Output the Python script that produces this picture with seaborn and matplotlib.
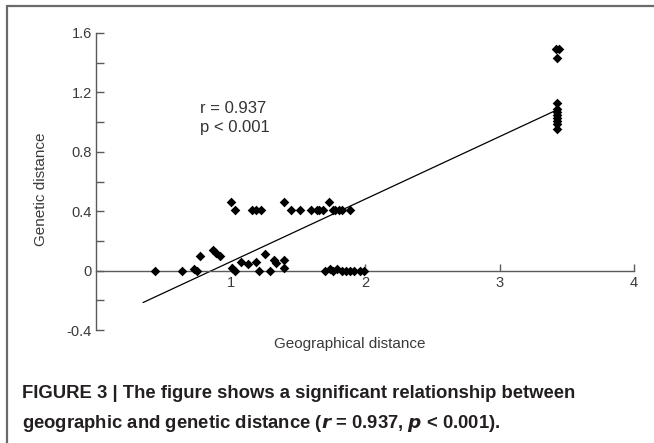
import numpy as np
import pandas as pd
import matplotlib
matplotlib.use('Agg')
import matplotlib.pyplot as plt
from matplotlib.ticker import MultipleLocator
import seaborn as sns

# data
geo_upper = [1.00, 1.03, 1.16, 1.19, 1.23, 1.40, 1.45, 1.52, 1.60, 1.64, 1.66,
             1.69, 1.73, 1.76, 1.78, 1.81, 1.83, 1.89]
gen_upper = [0.46, 0.41, 0.41, 0.41, 0.41, 0.46, 0.41, 0.41, 0.41, 0.41, 0.41,
             0.41, 0.46, 0.41, 0.41, 0.41, 0.41, 0.41]

geo_lower = [0.44, 0.64, 0.73, 0.75, 0.77, 0.87, 0.89, 0.92, 1.01, 1.03, 1.08,
             1.13, 1.19, 1.21, 1.26, 1.29, 1.32, 1.34, 1.40, 1.40]
gen_lower = [0.00, 0.00, 0.01, 0.00, 0.10, 0.14, 0.12, 0.095, 0.015, 0.00, 0.06,
             0.045, 0.06, 0.00, 0.115, 0.00, 0.07, 0.05, 0.07, 0.015]

geo_base = [1.70, 1.74, 1.76, 1.79, 1.83, 1.86, 1.89, 1.92, 1.96, 1.99]
gen_base = [0.00, 0.01, 0.00, 0.01, 0.00, 0.00, 0.00, 0.00, 0.00, 0.00]

geo_far = [3.42, 3.44, 3.43, 3.43, 3.43, 3.43, 3.43, 3.43, 3.43, 3.43, 3.43]
gen_far = [1.495, 1.495, 1.43, 1.13, 1.09, 1.07, 1.05, 1.03, 1.01, 0.99, 0.955]

# fitted line end points
line_x = [0.35, 3.41]
line_y = [-0.215, 1.075]

df = pd.DataFrame({
    'geo': geo_upper + geo_lower + geo_base + geo_far,
    'gen': gen_upper + gen_lower + gen_base + gen_far,
})

sns.set_style('white')
plt.rcParams['font.family'] = ['Liberation Sans', 'DejaVu Sans']
plt.rcParams['mathtext.fontset'] = 'custom'
plt.rcParams['mathtext.it'] = 'Liberation Sans Narrow:italic:bold'
plt.rcParams['mathtext.rm'] = 'Liberation Sans Narrow:bold'

fig = plt.figure(figsize=(6.54, 4.43), dpi=100)
ax = fig.add_axes([96 / 654, 1 - 330 / 443, 538 / 654, 297 / 443])

sns.scatterplot(data=df, x='geo', y='gen', marker='D', color='black',
                s=24, linewidth=0, ax=ax, zorder=3)
sns.lineplot(x=line_x, y=line_y, color='black', linewidth=0.9, ax=ax)

ax.set_xlim(0, 4)
ax.set_ylim(-0.4, 1.6)

for side in ['top', 'right']:
    ax.spines[side].set_visible(False)
ax.spines['bottom'].set_position(('data', 0))
for side in ['left', 'bottom']:
    ax.spines[side].set_color('#5a5a5a')
    ax.spines[side].set_linewidth(1.0)

ax.set_xticks([1, 2, 3, 4])
ax.set_xticklabels(['1', '2', '3', '4'])
ax.yaxis.set_minor_locator(MultipleLocator(0.2))
ax.set_yticks([-0.4, 0, 0.4, 0.8, 1.2, 1.6])
ax.set_yticklabels(['-0.4', '0', '0.4', '0.8', '1.2', '1.6'])
ax.tick_params(axis='x', direction='in', length=5, width=1, color='#5a5a5a',
               labelsize=10.5, labelcolor='#3a3a3a', pad=4, bottom=True)
ax.tick_params(axis='y', which='both', direction='in', length=6, width=1,
               color='#5a5a5a', labelsize=10.5, labelcolor='#3a3a3a', pad=3,
               left=True)

ax.set_xlabel('Geographical distance', fontsize=11, color='#3a3a3a')
ax.set_ylabel('Genetic distance', fontsize=11, color='#3a3a3a')
ax.xaxis.set_label_coords(0.472, -0.025)
ax.yaxis.set_label_coords(-0.09, 0.475)

ax.text(0.77, 1.14, 'r = 0.937\np < 0.001', fontsize=12, color='#333333',
        va='top', ha='left', linespacing=1.3)

# frame around the figure (top and left edges visible)
fig.add_artist(plt.Line2D([7 / 654, 1], [1 - 6 / 443, 1 - 6 / 443],
                          color='#6a6a6a', linewidth=1.6))
fig.add_artist(plt.Line2D([7 / 654, 7 / 654], [0, 1 - 6 / 443],
                          color='#6a6a6a', linewidth=1.6))

cap_font = ['Liberation Sans Narrow', 'Liberation Sans']
fig.text(22 / 654, 1 - 398 / 443,
         'FIGURE 3 | The figure shows a significant relationship between',
         fontsize=13.3, fontweight='bold', family=cap_font, color='#231f20',
         ha='left', va='baseline')
fig.text(22 / 654, 1 - 428 / 443,
         'geographic and genetic distance ($r$ = 0.937, $p$ < 0.001).',
         fontsize=13.3, fontweight='bold', family=cap_font, color='#231f20',
         ha='left', va='baseline')

fig.savefig('out.png', dpi=100)
